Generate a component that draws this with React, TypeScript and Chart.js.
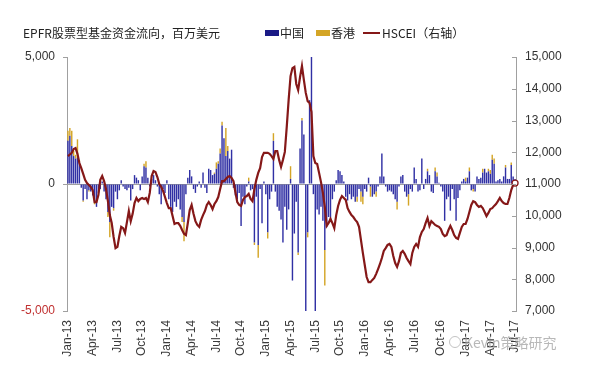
import React, { useEffect, useRef } from 'react';
import { Chart, registerables } from 'chart.js';

Chart.register(...registerables);

// ---- Data -----------------------------------------------------------------
const QUARTER_LABELS = [
  'Jan-13', 'Apr-13', 'Jul-13', 'Oct-13', 'Jan-14', 'Apr-14', 'Jul-14', 'Oct-14',
  'Jan-15', 'Apr-15', 'Jul-15', 'Oct-15', 'Jan-16', 'Apr-16', 'Jul-16', 'Oct-16',
  'Jan-17', 'Apr-17', 'Jul-17',
];
const MONTH_NAMES = ['Jan', 'Feb', 'Mar', 'Apr', 'May', 'Jun', 'Jul', 'Aug', 'Sep', 'Oct', 'Nov', 'Dec'];
const FIRST_WEEK = { year: 2013, month: 0, day: 4 };

// weekly EPFR equity fund flows, US$ mn
const CHINA = [
  1700, 1900, 1500, 1100, 1000, 1040, 850, -150, -650, -200,
  -600, -250, -300, -450, -700, -900, -350, -200, 100, -300,
  -600, -1100, -1500, -900, -950, -300, -600, -250, 150, -100,
  -200, -250, -150, -650, -200, 350, 250, 150, -250, 300,
  700, 650, 250, -100, 200, 350, 150, -100, -400, -800,
  -200, -350, 150, -600, -900, -1100, -700, -900, -600, -1000,
  -1300, -1500, -400, 250, 550, 300, -200, -350, -100, 100,
  -150, 450, -150, -350, 600, 550, 350, 400, 600, 800,
  1200, 2300, 1800, 1100, 1300, 1000, 1350, -150, -450, -600,
  -350, -1650, -500, -800, -100, 100, -250, -200, -2300, -500,
  -2400, -200, -1550, 100, -400, -1900, -600, -300, 1700, -300,
  -900, -1050, -1400, -2300, -900, -1800, -1000, 200, -3800, -1950,
  -700, -2700, 1400, 2500, 1950, -5300, -1900, 3300, 5500, -400,
  -5500, -1000, -1200, -900, -1450, -2600, -1700, -1300, -1500, -600,
  -300, 150, 550, 500, 350, 100, -500, -650, -400, -600,
  -500, -700, -500, -200, -300, -500, -200, -300, 250, -100,
  -500, -400, -300, -100, 300, 1200, 300, -100, -300, -250,
  -300, -400, -600, -700, -100, 300, 350, -300, -500, -400,
  -200, -300, 650, 200, -300, -250, 1000, -200, 200, 500,
  350, -300, -350, 500, 300, 50, -100, -300, -1450, -600,
  -500, -1050, -200, -600, -1450, -550, -250, 100, 200, 100,
  250, 500, -250, -200, -300, 300, 200, 250, 450, 600,
  450, 500, 400, 950, 800, 100, 150, 200, 100, 300,
  650, 200, 200, 750, 300, 200,
];

const HONGKONG = [
  400, 300, 600, 200, 150, 720, 100, 0, -50, 0,
  0, -50, 0, 0, -100, 0, 0, 0, 0, 0,
  0, -200, -600, 0, -100, 0, 0, 0, 0, 0,
  0, 0, 0, 0, 0, 0, 0, 0, 0, 0,
  100, 250, 0, 0, 0, 0, 0, 0, 0, 0,
  0, 0, 0, 0, 0, 0, 0, 0, 0, 0,
  -200, -750, 0, 0, 0, 0, 0, 0, 0, 0,
  0, 0, 0, 0, 0, 0, 0, 50, 250, 100,
  200, 150, 0, 1100, 200, 0, 0, 0, 0, 0,
  0, 0, 0, 0, 0, 150, 0, 0, -100, 0,
  -500, 0, 0, 0, 0, -250, 0, 0, 300, 0,
  0, 0, 0, 0, 0, 0, 0, 500, 0, 0,
  0, -100, 0, 100, 0, 0, -200, 0, 0, 0,
  0, 0, 0, 0, 0, -1400, 0, 0, 0, 0,
  0, 0, 0, 0, 0, 0, 0, 0, 0, 0,
  0, 0, -200, 0, -400, -300, 0, 0, 0, -400,
  0, 0, -200, 0, 0, 0, 0, 0, 0, 0,
  0, 0, 0, -300, 0, 0, 0, 0, 0, -450,
  0, 0, 0, 0, 0, 0, 0, 0, 0, 100,
  0, 0, 0, 150, 150, 0, 0, 0, 0, 0,
  0, 0, 0, 0, 0, 0, 0, 0, 0, 150,
  0, 150, 0, -100, 0, 0, 0, 0, 150, 0,
  0, 100, 150, 200, 200, 0, 0, 0, 0, 0,
  100, 0, 0, 100, 0, 0,
];

// HSCEI index (right axis)
const HSCEI = [
  11880, 11930, 11980, 12100, 12130, 11950, 11660, 11500, 11320, 11130,
  11030, 10970, 10910, 10810, 10430, 10430, 10650, 11130, 11250, 11090,
  10840, 10460, 10020, 9770, 9330, 8980, 9020, 9360, 9650, 9610,
  9460, 9800, 10150, 9830, 10060, 10400, 10560, 10460, 10530, 10560,
  10530, 10560, 10430, 10720, 11250, 11410, 11380, 11220, 11000, 10910,
  10780, 10590, 10400, 10240, 10240, 9990, 9740, 9770, 9770, 9680,
  9550, 9430, 9390, 9770, 10180, 10340, 10060, 9830, 9710, 9650,
  9870, 10020, 10150, 10340, 10430, 10340, 10210, 10370, 10460, 10590,
  10840, 11090, 11090, 11160, 11220, 11250, 11190, 11090, 10750, 10430,
  10340, 10310, 10500, 10590, 10620, 10690, 10530, 10460, 10840, 11130,
  11350, 11500, 11850, 11980, 11980, 11980, 11950, 11880, 11790, 12040,
  12040, 11760, 11540, 11760, 12010, 12800, 13650, 14400, 14650, 14690,
  14150, 13960, 14370, 14720, 14280, 13870, 13610, 13550, 13270, 11880,
  11660, 11630, 11350, 11060, 10720, 10280, 9680, 9770, 9900, 9770,
  9610, 10020, 10310, 10500, 10620, 10560, 10500, 10240, 10120, 10020,
  9960, 9870, 9800, 9650, 9240, 8830, 8450, 8070, 7910, 7910,
  7980, 8040, 8170, 8320, 8480, 8670, 8890, 8980, 9080, 9110,
  9020, 8730, 8510, 8390, 8570, 8830, 8890, 8800, 8670, 8570,
  8480, 8830, 9020, 9110, 9020, 9330, 9490, 9580, 9770, 9930,
  9680, 9830, 9770, 9710, 9680, 9650, 9580, 9430, 9360, 9390,
  9550, 9680, 9550, 9390, 9300, 9270, 9460, 9650, 9740, 9740,
  9900, 10120, 10340, 10460, 10430, 10340, 10280, 10310, 10240, 10120,
  9990, 10090, 10210, 10240, 10310, 10370, 10460, 10560, 10460, 10400,
  10370, 10370, 10560, 10810, 10970, 11030,
];

const LEFT_TICKS = [-5000, 0, 5000];
const RIGHT_MIN = 7000;
const RIGHT_MAX = 15000;
const RIGHT_STEP = 1000;

// ---- Helpers --------------------------------------------------------------
function weekLabels(n: number): string[] {
  const out: string[] = [];
  for (let i = 0; i < n; i++) {
    const d = new Date(FIRST_WEEK.year, FIRST_WEEK.month, FIRST_WEEK.day + 7 * i);
    out.push(MONTH_NAMES[d.getMonth()] + '-' + String(d.getFullYear()).slice(2));
  }
  return out;
}

const NUM_FONT = '"Liberation Sans", Arial, sans-serif';
const CJK_FONT = '"Noto Sans CJK SC", "Noto Sans", sans-serif';
const AXIS_GRAY = '#a0a0a0';
const BLUE = '#3030a4';
const GOLD = '#d4a526';
const RED_LINE = '#851818';

export default function App() {
  const canvasRef = useRef<HTMLCanvasElement | null>(null);

  useEffect(() => {
    if (!canvasRef.current) return;
    const labels = weekLabels(HSCEI.length);

    const rightTickPlugin = {
      id: 'rightInnerTicks',
      afterDraw(chart: any) {
        const s = chart.scales.y1;
        const ctx = chart.ctx;
        ctx.save();
        ctx.strokeStyle = AXIS_GRAY;
        ctx.lineWidth = 1;
        s.ticks.forEach((t: any) => {
          const y = Math.round(s.getPixelForValue(t.value)) + 0.5;
          ctx.beginPath();
          ctx.moveTo(chart.chartArea.right - 4, y);
          ctx.lineTo(chart.chartArea.right, y);
          ctx.stroke();
        });
        ctx.restore();
      },
    };

    const chart = new Chart(canvasRef.current, {
      type: 'bar',
      data: {
        labels,
        datasets: [
          {
            type: 'line',
            label: 'HSCEI（右轴）',
            data: HSCEI,
            yAxisID: 'y1',
            borderColor: RED_LINE,
            borderWidth: 2.2,
            tension: 0,
            pointRadius: (c: any) => (c.dataIndex === HSCEI.length - 1 ? 3 : 0),
            pointBackgroundColor: '#ffffff',
            pointBorderColor: RED_LINE,
            pointBorderWidth: 1.3,
            order: 0,
          } as any,
          {
            type: 'bar',
            label: '中国',
            data: CHINA,
            yAxisID: 'y',
            backgroundColor: BLUE,
            stack: 'flows',
            categoryPercentage: 1,
            barPercentage: 0.75,
            clip: 0,
            order: 1,
          } as any,
          {
            type: 'bar',
            label: '香港',
            data: HONGKONG,
            yAxisID: 'y',
            backgroundColor: GOLD,
            stack: 'flows',
            categoryPercentage: 1,
            barPercentage: 0.75,
            clip: 0,
            order: 1,
          } as any,
        ],
      },
      options: {
        responsive: false,
        animation: false,
        devicePixelRatio: 1,
        layout: { padding: { top: 57, left: 0, right: 0, bottom: 0 } },
        plugins: { legend: { display: false }, tooltip: { enabled: false }, title: { display: false } },
        scales: {
          x: {
            type: 'category',
            stacked: true,
            offset: true,
            grid: { display: false, drawTicks: false },
            border: { display: false },
            ticks: {
              autoSkip: false,
              maxRotation: 90,
              minRotation: 90,
              padding: 9,
              color: '#3a3a3a',
              font: { family: NUM_FONT, size: 12 },
              callback: (_v: any, i: number) => {
                const lab = labels[i];
                if (QUARTER_LABELS.indexOf(lab) < 0) return '';
                if (i > 0 && labels[i - 1] === lab) return '';
                return lab;
              },
            },
            afterFit: (s: any) => { s.height = 70; },
          },
          y: {
            position: 'left',
            stacked: true,
            min: -5000,
            max: 5000,
            afterBuildTicks: (s: any) => { s.ticks = LEFT_TICKS.map((v) => ({ value: v })); },
            grid: {
              display: true,
              drawOnChartArea: true,
              drawTicks: true,
              tickLength: 4,
              color: (c: any) => (c.tick && c.tick.value === 0 ? AXIS_GRAY : 'rgba(0,0,0,0)'),
              tickColor: AXIS_GRAY,
            },
            border: { display: true, color: AXIS_GRAY },
            ticks: {
              padding: 8,
              color: (c: any) => (c.tick && c.tick.value < 0 ? '#c03030' : '#333333'),
              font: { family: NUM_FONT, size: 12 },
              callback: (v: any) => Number(v).toLocaleString('en-US'),
            },
            afterFit: (s: any) => { s.width = 67; },
          },
          y1: {
            position: 'right',
            stacked: false,
            min: RIGHT_MIN,
            max: RIGHT_MAX,
            grid: { display: true, drawOnChartArea: false, drawTicks: false },
            border: { display: true, color: AXIS_GRAY },
            ticks: {
              stepSize: RIGHT_STEP,
              padding: 9,
              color: '#333333',
              font: { family: NUM_FONT, size: 12 },
              callback: (v: any) => Number(v).toLocaleString('en-US'),
            },
            afterFit: (s: any) => { s.width = 84; },
          },
        },
      } as any,
      plugins: [rightTickPlugin],
    });

    return () => chart.destroy();
  }, []);

  const textBase: React.CSSProperties = {
    position: 'absolute',
    fontFamily: CJK_FONT,
    fontSize: 12,
    lineHeight: '16px',
    color: '#222222',
    whiteSpace: 'nowrap',
  };

  return (
    <div style={{ position: 'fixed', left: 0, top: 0, width: 600, height: 381, background: '#ffffff' }}>
      <canvas ref={canvasRef} width={600} height={381} style={{ display: 'block', width: 600, height: 381 }} />
      <span style={{ ...textBase, left: 23, top: 25 }}>EPFR股票型基金资金流向，百万美元</span>
      <div style={{ position: 'absolute', left: 265, top: 30, width: 14, height: 6, background: '#1a1a86' }} />
      <span style={{ ...textBase, left: 280, top: 25 }}>中国</span>
      <div style={{ position: 'absolute', left: 316, top: 30, width: 14, height: 6, background: GOLD }} />
      <span style={{ ...textBase, left: 331, top: 25 }}>香港</span>
      <div style={{ position: 'absolute', left: 363, top: 32, width: 17, height: 2, background: RED_LINE }} />
      <span style={{ ...textBase, left: 382, top: 25 }}>HSCEI（右轴）</span>
      <div style={{ position: 'absolute', left: 449, top: 336, width: 12, height: 12, borderRadius: '50%', border: '1.5px solid rgba(170,170,170,0.7)', boxSizing: 'border-box' }} />
      <span style={{ ...textBase, left: 464, top: 333, fontSize: 14, lineHeight: '18px', color: 'rgba(160,160,160,0.75)' }}>Kevin策略研究</span>
    </div>
  );
}
